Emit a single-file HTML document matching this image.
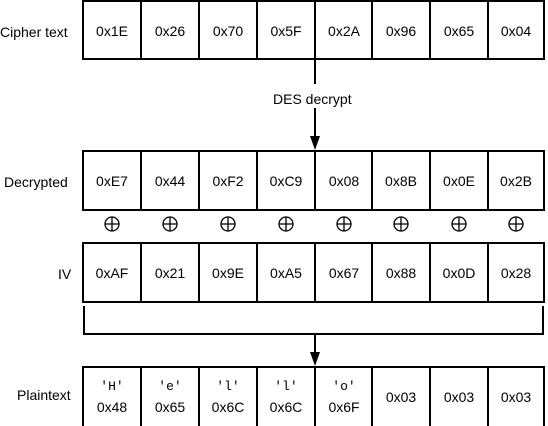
<!DOCTYPE html>
<html><head><meta charset="utf-8"><style>
html,body{margin:0;padding:0;background:#fff;}
svg{display:block;}
text{font-family:"Liberation Sans",sans-serif;font-size:14px;fill:#000;}
.m{font-family:"Liberation Mono",monospace;font-size:13px;}
</style></head><body>
<svg width="548" height="426" viewBox="0 0 548 426" xmlns="http://www.w3.org/2000/svg">
<g fill="none" stroke="#000" stroke-width="2">
<rect x="83" y="1" width="461" height="58"/>
<rect x="83" y="151" width="461" height="59"/>
<rect x="83" y="243" width="461" height="59"/>
<rect x="83" y="367" width="461" height="60"/>
<path d="M141 1V59M199 1V59M257 1V59M315 1V59M372 1V59M430 1V59M488 1V59"/>
<path d="M141 151V210M199 151V210M257 151V210M315 151V210M372 151V210M430 151V210M488 151V210"/>
<path d="M141 243V302M199 243V302M257 243V302M315 243V302M372 243V302M430 243V302M488 243V302"/>
<path d="M141 367V426M199 367V426M257 367V426M315 367V426M372 367V426M430 367V426M488 367V426"/>
<path d="M315 59V84M315 108V138"/>
<path d="M84 306V334H543V306"/>
<path d="M315 334V354"/>
</g>
<path d="M310 136H320L315 150Z" fill="#000"/>
<path d="M310 352H320L315 366Z" fill="#000"/>
<g fill="none" stroke="#000" stroke-width="1.3">
<circle cx="112" cy="224" r="7"/><path d="M105 224H119M112 217V231"/>
<circle cx="170" cy="224" r="7"/><path d="M163 224H177M170 217V231"/>
<circle cx="228" cy="224" r="7"/><path d="M221 224H235M228 217V231"/>
<circle cx="286" cy="224" r="7"/><path d="M279 224H293M286 217V231"/>
<circle cx="344" cy="224" r="7"/><path d="M337 224H351M344 217V231"/>
<circle cx="401" cy="224" r="7"/><path d="M394 224H408M401 217V231"/>
<circle cx="459" cy="224" r="7"/><path d="M452 224H466M459 217V231"/>
<circle cx="516" cy="224" r="7"/><path d="M509 224H523M516 217V231"/>
</g>
<text x="0" y="37">Cipher text</text>
<text x="4" y="187">Decrypted</text>
<text x="58" y="279">IV</text>
<text x="17" y="400">Plaintext</text>
<text x="273" y="104">DES decrypt</text>
<g text-anchor="middle">
<text x="112" y="36">0x1E</text><text x="170" y="36">0x26</text><text x="228" y="36">0x70</text><text x="286" y="36">0x5F</text><text x="344" y="36">0x2A</text><text x="401" y="36">0x96</text><text x="459" y="36">0x65</text><text x="516" y="36">0x04</text>
<text x="112" y="186">0xE7</text><text x="170" y="186">0x44</text><text x="228" y="186">0xF2</text><text x="286" y="186">0xC9</text><text x="344" y="186">0x08</text><text x="401" y="186">0x8B</text><text x="459" y="186">0x0E</text><text x="516" y="186">0x2B</text>
<text x="112" y="278">0xAF</text><text x="170" y="278">0x21</text><text x="228" y="278">0x9E</text><text x="286" y="278">0xA5</text><text x="344" y="278">0x67</text><text x="401" y="278">0x88</text><text x="459" y="278">0x0D</text><text x="516" y="278">0x28</text>
<text class="m" x="112" y="390">'H'</text><text class="m" x="170" y="390">'e'</text><text class="m" x="228" y="390">'l'</text><text class="m" x="286" y="390">'l'</text><text class="m" x="344" y="390">'o'</text>
<text x="112" y="412">0x48</text><text x="170" y="412">0x65</text><text x="228" y="412">0x6C</text><text x="286" y="412">0x6C</text><text x="344" y="412">0x6F</text>
<text x="401" y="402">0x03</text><text x="459" y="402">0x03</text><text x="516" y="402">0x03</text>
</g>
</svg>
</body></html>
